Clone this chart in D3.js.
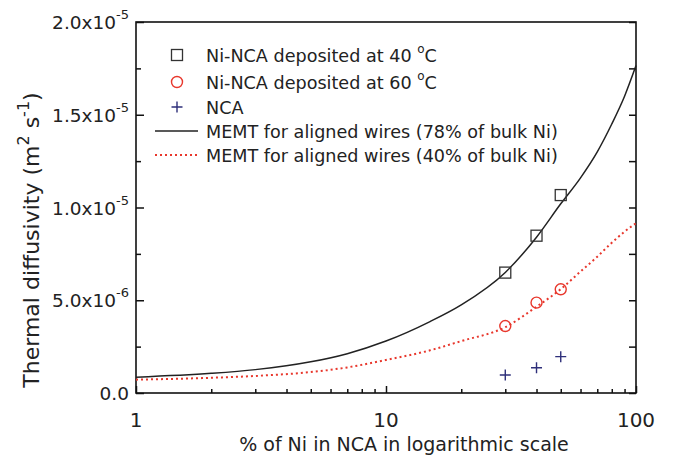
<!DOCTYPE html>
<html>
<head>
<meta charset="utf-8">
<script src="https://cdn.jsdelivr.net/npm/d3@7"></script>
<style>
  html, body { margin: 0; padding: 0; background: #fff; }
  svg { display: block; font-family: "DejaVu Sans", "Liberation Sans", Arial, sans-serif; }
</style>
</head>
<body>
<svg id="chart" width="676" height="456"></svg>
<script>
// ---- data ----
const xTickValues = [1, 10, 100];
const xTickLabels = ["1", "10", "100"];
const xMinorTicks = [2, 3, 4, 5, 6, 7, 8, 9, 20, 30, 40, 50, 60, 70, 80, 90];
const yTickValues = [0, 5e-6, 1e-5, 1.5e-5, 2e-5];
const yTickMantissa = ["0.0", "5.0x10", "1.0x10", "1.5x10", "2.0x10"];
const yTickExponent = ["", "-6", "-5", "-5", "-5"];
const yMinorTicks = [2.5e-6, 7.5e-6, 1.25e-5, 1.75e-5];

const sampleX = [30, 40, 50];
const ni40 = [6.49e-6, 8.48e-6, 1.067e-5];
const ni60 = [3.61e-6, 4.87e-6, 5.59e-6];
const nca = [0.97e-6, 1.36e-6, 1.96e-6];

const modelX = [1, 2, 3, 5, 7, 10, 15, 20, 30, 40, 50, 60, 70, 80, 90, 100];
const memt78 = [0.85e-6, 1.06e-6, 1.26e-6, 1.68e-6, 2.12e-6, 2.80e-6, 3.85e-6, 4.75e-6, 6.50e-6, 8.40e-6, 10.2e-6, 11.6e-6, 13.0e-6, 14.5e-6, 16.0e-6, 17.65e-6];
const memt40 = [0.72e-6, 0.82e-6, 0.92e-6, 1.13e-6, 1.38e-6, 1.78e-6, 2.30e-6, 2.80e-6, 3.55e-6, 4.65e-6, 5.60e-6, 6.55e-6, 7.35e-6, 8.10e-6, 8.70e-6, 9.15e-6];

const legendItems = [
  { label: "Ni-NCA deposited at 40 ", sup: "o", tail: "C", kind: "square" },
  { label: "Ni-NCA deposited at 60 ", sup: "o", tail: "C", kind: "circle" },
  { label: "NCA", sup: "", tail: "", kind: "cross" },
  { label: "MEMT for aligned wires (78% of bulk Ni)", sup: "", tail: "", kind: "solid" },
  { label: "MEMT for aligned wires (40% of bulk Ni)", sup: "", tail: "", kind: "dotted" }
];

// ---- styles ----
const C_BLACK = "#222";
const C_RED = "#e8372c";
const C_BLUE = "#2e2f7a";
const C_TEXT = "#222";

// ---- layout ----
const L = 136, R = 636, T = 22, B = 393;
const svg = d3.select("#chart");

const x = d3.scaleLog().domain([1, 100]).range([L, R]);
const y = d3.scaleLinear().domain([0, 2e-5]).range([B, T]);

// frame
svg.append("rect").attr("x", L).attr("y", T).attr("width", R - L).attr("height", B - T)
  .attr("fill", "none").attr("stroke", "#111").attr("stroke-width", 1.6);

// bottom ticks (inward)
svg.append("g").attr("transform", `translate(0,${B})`)
  .call(d3.axisBottom(x).tickValues(xTickValues).tickSize(-7).tickSizeOuter(0).tickFormat(""));
svg.append("g").attr("transform", `translate(0,${B})`)
  .call(d3.axisBottom(x).tickValues(xMinorTicks).tickSize(-4).tickSizeOuter(0).tickFormat(""));
// left ticks
svg.append("g").attr("transform", `translate(${L},0)`)
  .call(d3.axisLeft(y).tickValues(yTickValues).tickSize(-8).tickSizeOuter(0).tickFormat(""));
svg.append("g").attr("transform", `translate(${L},0)`)
  .call(d3.axisLeft(y).tickValues(yMinorTicks).tickSize(-5).tickSizeOuter(0).tickFormat(""));
// right ticks
svg.append("g").attr("transform", `translate(${R},0)`)
  .call(d3.axisRight(y).tickValues(yTickValues.concat(yMinorTicks)).tickSize(-7).tickSizeOuter(0).tickFormat(""));
svg.selectAll(".domain").remove();
svg.selectAll(".tick line").attr("stroke", "#111").attr("stroke-width", 1.5);

// x tick labels
svg.append("g").selectAll("text").data(xTickValues).join("text")
  .attr("x", d => x(d)).attr("y", 427).attr("text-anchor", "middle")
  .attr("font-size", 20).attr("fill", C_TEXT)
  .text((d, i) => xTickLabels[i]);

// y tick labels with superscript exponents
const yl = svg.append("g").selectAll("text").data(yTickValues).join("text")
  .attr("x", L - 7).attr("y", d => y(d) + 7).attr("text-anchor", "end")
  .attr("font-size", 18.5).attr("fill", C_TEXT);
yl.append("tspan").text((d, i) => yTickMantissa[i]);
yl.append("tspan").attr("dy", -10).attr("font-size", 13).text((d, i) => yTickExponent[i]);

// axis titles
svg.append("text").attr("x", 404).attr("y", 451).attr("text-anchor", "middle")
  .attr("font-size", 19).attr("fill", C_TEXT)
  .text("% of Ni in NCA in logarithmic scale");

const yt = svg.append("text").attr("transform", "translate(39,240) rotate(-90)")
  .attr("text-anchor", "middle").attr("font-size", 22).attr("fill", C_TEXT);
yt.append("tspan").text("Thermal diffusivity (m");
yt.append("tspan").attr("font-size", 16).attr("dy", -10).text("2");
yt.append("tspan").attr("font-size", 22).attr("dy", 10).text(" s");
yt.append("tspan").attr("font-size", 16).attr("dy", -10).text("-1");
yt.append("tspan").attr("font-size", 22).attr("dy", 10).text(")");

// model curves
const line = d3.line().x(d => x(d[0])).y(d => y(d[1])).curve(d3.curveMonotoneX);
svg.append("path").datum(modelX.map((v, i) => [v, memt78[i]]))
  .attr("d", line).attr("fill", "none").attr("stroke", C_BLACK).attr("stroke-width", 1.5);
svg.append("path").datum(modelX.map((v, i) => [v, memt40[i]]))
  .attr("d", line).attr("fill", "none").attr("stroke", C_RED).attr("stroke-width", 2)
  .attr("stroke-dasharray", "2,3");

// markers
function drawSquare(g, cx, cy) {
  g.append("rect").attr("x", cx - 5.5).attr("y", cy - 5.5).attr("width", 11).attr("height", 11)
    .attr("fill", "none").attr("stroke", "#333").attr("stroke-width", 1.3);
}
function drawCircle(g, cx, cy) {
  g.append("circle").attr("cx", cx).attr("cy", cy).attr("r", 5.5)
    .attr("fill", "none").attr("stroke", C_RED).attr("stroke-width", 1.4);
}
function drawCross(g, cx, cy) {
  g.append("path").attr("d", `M${cx - 5.5},${cy}H${cx + 5.5}M${cx},${cy - 5.5}V${cy + 5.5}`)
    .attr("stroke", C_BLUE).attr("stroke-width", 1.4);
}
const mg = svg.append("g");
sampleX.forEach((v, i) => drawSquare(mg, x(v), y(ni40[i])));
sampleX.forEach((v, i) => drawCircle(mg, x(v), y(ni60[i])));
sampleX.forEach((v, i) => drawCross(mg, x(v), y(nca[i])));

// legend
const legY = [55, 82, 107, 131, 155];
const lg = svg.append("g");
legendItems.forEach((it, i) => {
  const cy = legY[i];
  if (it.kind === "square") drawSquare(lg, 177, cy);
  if (it.kind === "circle") drawCircle(lg, 177, cy);
  if (it.kind === "cross") drawCross(lg, 177, cy);
  if (it.kind === "solid") lg.append("line").attr("x1", 155).attr("x2", 198).attr("y1", cy).attr("y2", cy)
    .attr("stroke", C_BLACK).attr("stroke-width", 1.5);
  if (it.kind === "dotted") lg.append("line").attr("x1", 155).attr("x2", 198).attr("y1", cy).attr("y2", cy)
    .attr("stroke", C_RED).attr("stroke-width", 2).attr("stroke-dasharray", "2,3");
  const t = lg.append("text").attr("x", 206).attr("y", cy + 6.5).attr("font-size", 17.6).attr("fill", C_TEXT);
  t.append("tspan").text(it.label);
  if (it.sup) {
    t.append("tspan").attr("font-size", 12).attr("dy", -9).text(it.sup);
    t.append("tspan").attr("font-size", 17.6).attr("dy", 9).text(it.tail);
  }
});
</script>
</body>
</html>
